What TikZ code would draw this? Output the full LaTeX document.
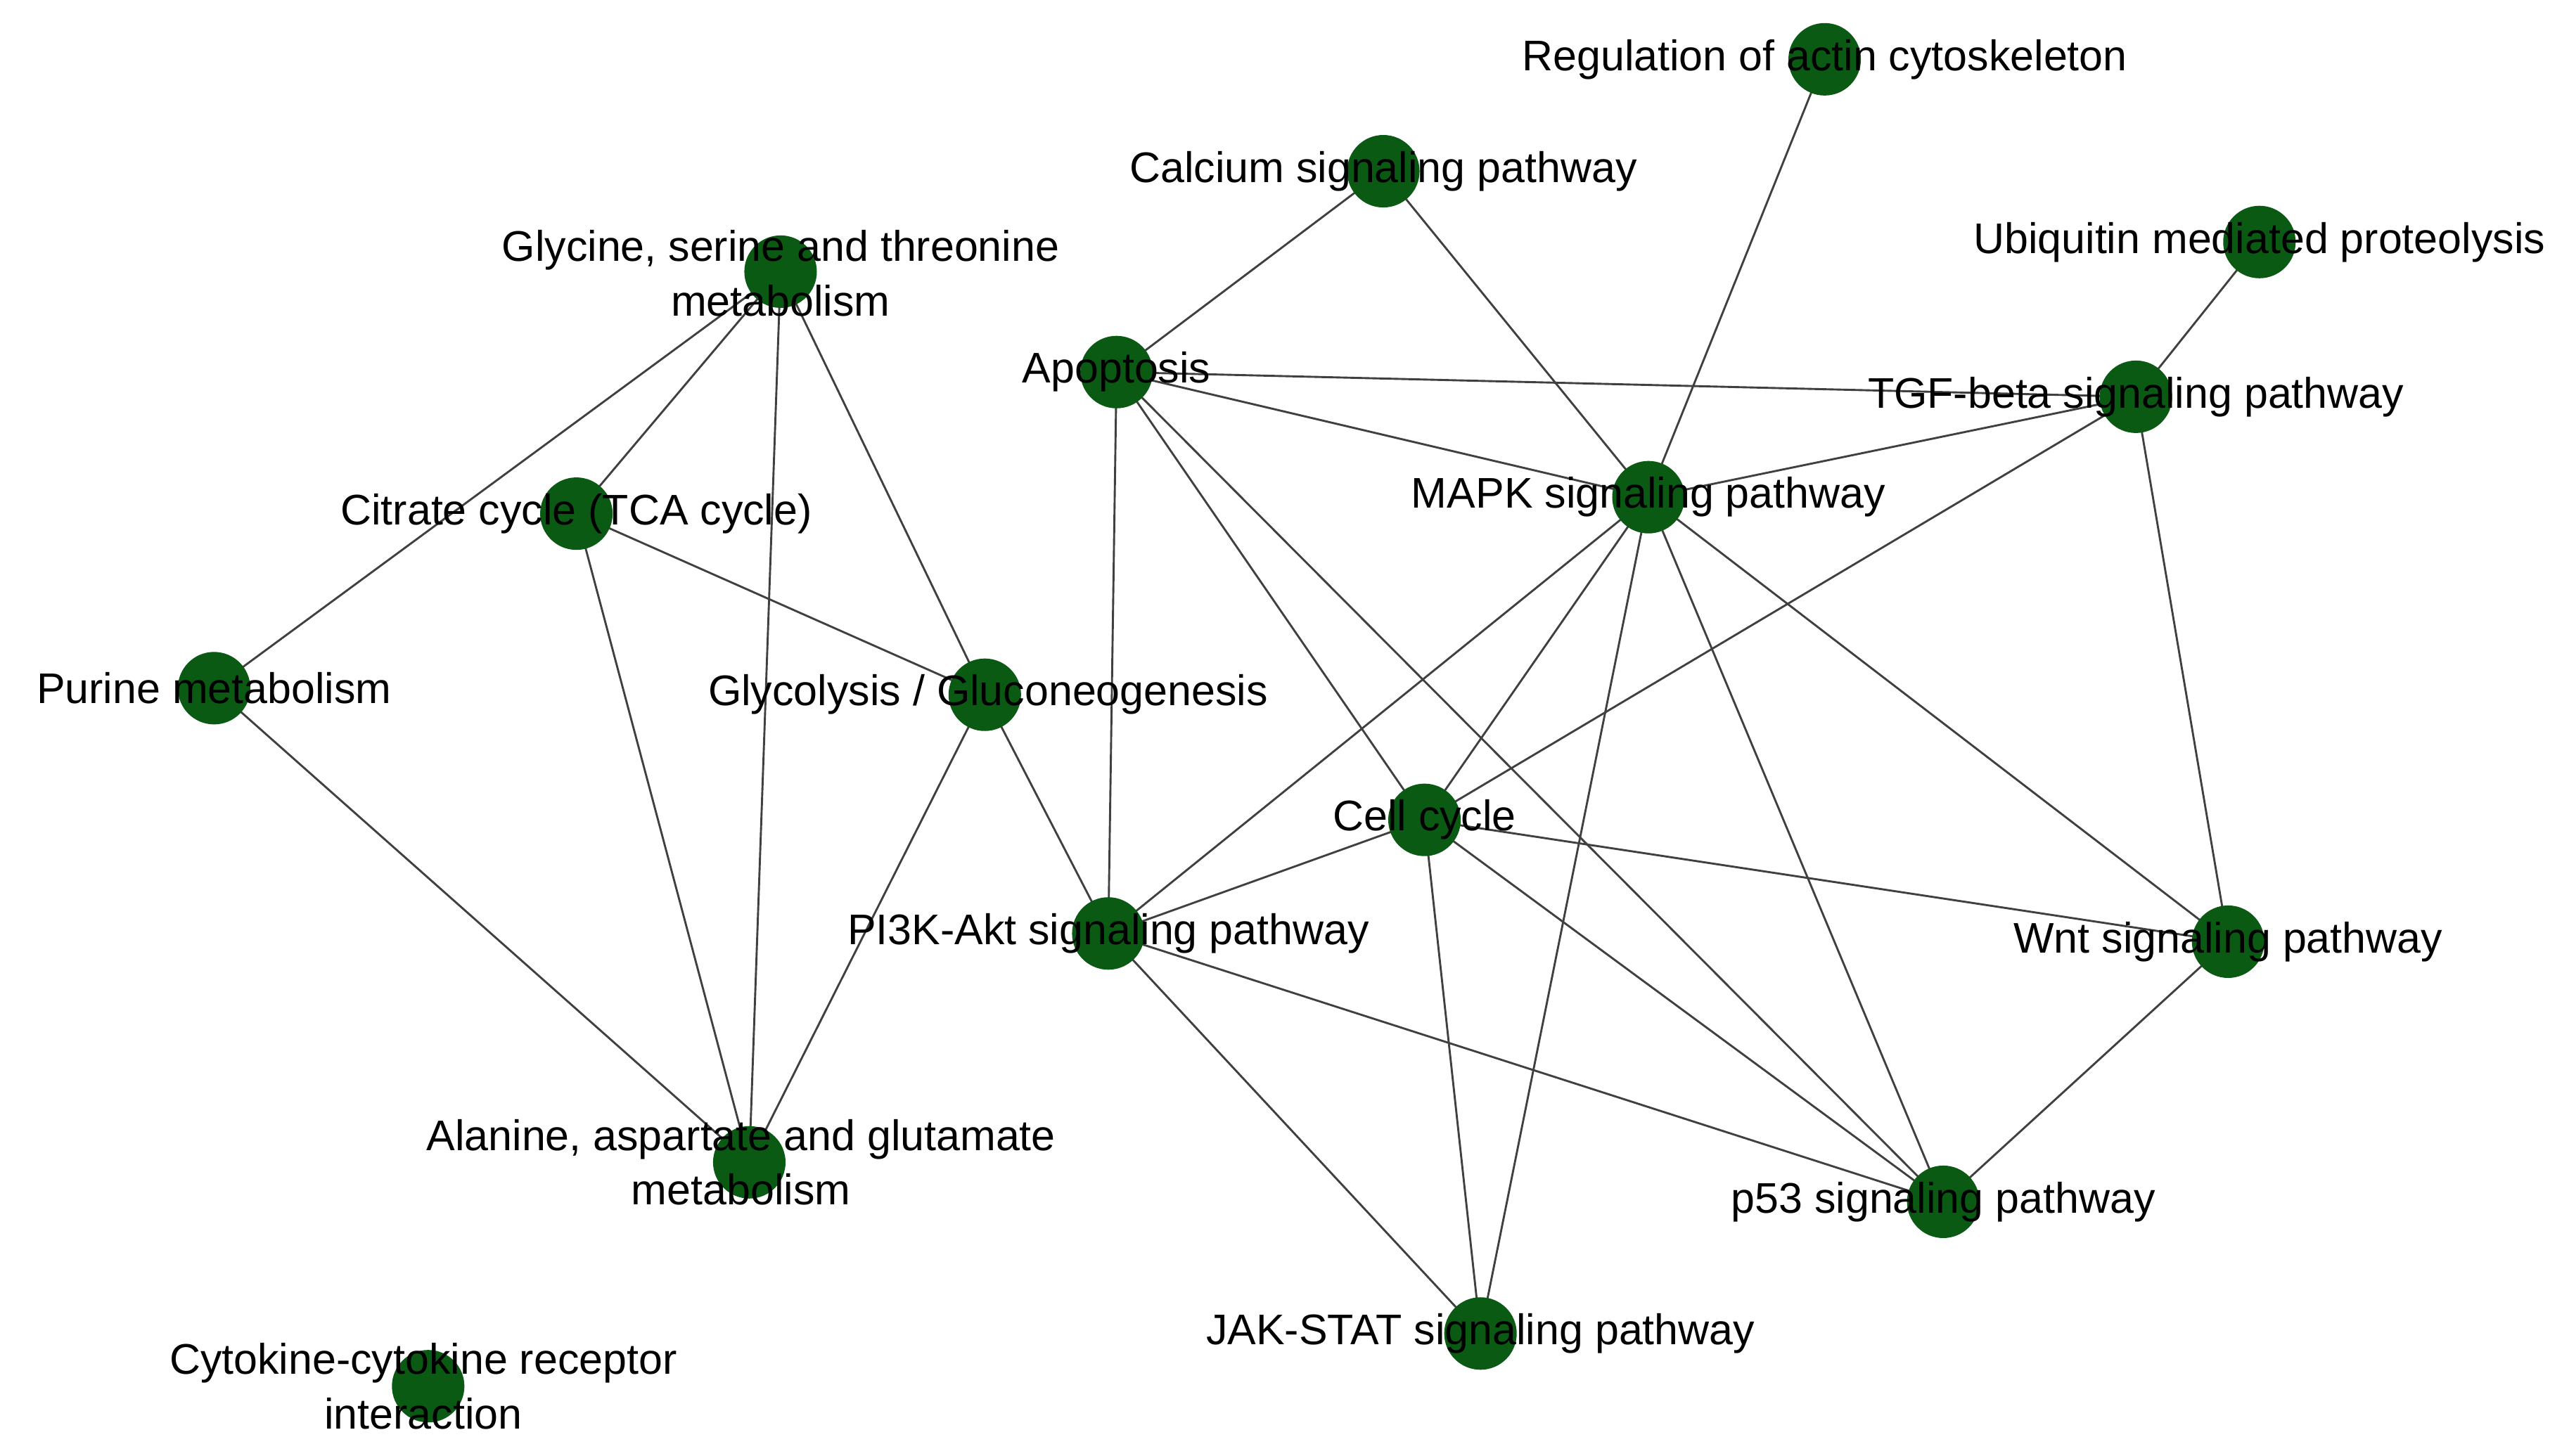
\documentclass[tikz,border=0pt]{standalone}
\usepackage{fontspec}
\setmainfont{Liberation Sans}
\begin{document}
\begin{tikzpicture}[x=0.01cm,y=-0.01cm,
  dot/.style={circle,fill=dotgreen,minimum size=0.44cm,inner sep=0pt},
  lab/.style={font=\fontsize{7.4}{9.4}\selectfont,align=center,inner sep=0pt},
  edge/.style={draw=black!75,line width=0.35pt}]
\definecolor{dotgreen}{HTML}{0B5A13}
\useasboundingbox (0,0) rectangle (1560,884);
\foreach \n/\x/\y in {reg/1108/36,cal/840/104,ubi/1372/147,gly/474/165,apo/678/226,tgf/1297/241,mapk/1001/302,cit/350/312,pur/130/418,glc/598/422,cc/865/498,pi3k/673/567,wnt/1353/572,ala/455/706,p53/1180/730,jak/899/810,cyt/260/842}
  \coordinate (\n) at (\x,\y);
\foreach \a/\b in {gly/cit,gly/pur,gly/ala,gly/glc,cit/glc,cit/ala,pur/ala,glc/ala,glc/pi3k,cal/apo,cal/mapk,reg/mapk,ubi/tgf,apo/tgf,apo/mapk,apo/pi3k,apo/cc,apo/p53,tgf/mapk,tgf/cc,tgf/wnt,mapk/pi3k,mapk/cc,mapk/jak,mapk/p53,mapk/wnt,cc/pi3k,cc/wnt,cc/p53,cc/jak,pi3k/p53,pi3k/jak,wnt/p53}
  \draw[edge] (\a) -- (\b);
\foreach \n in {reg,cal,ubi,gly,apo,tgf,mapk,cit,pur,glc,cc,pi3k,wnt,ala,p53,jak,cyt}
  \node[dot] (\n-d) at (\n) {};
\node[lab] (l1) at (1108,36) {Regulation of actin cytoskeleton};
\node[lab] (l2) at (840,104) {Calcium signaling pathway};
\node[lab] (l3) at (1372,147) {Ubiquitin mediated proteolysis};
\node[lab] (l4) at (474,166) {Glycine, serine and threonine\\metabolism};
\node[lab] (l5) at (678,226) {Apoptosis};
\node[lab] (l6) at (1297,241) {TGF-beta signaling pathway};
\node[lab] (l7) at (1001,302) {MAPK signaling pathway};
\node[lab] (l8) at (350,312) {Citrate cycle (TCA cycle)};
\node[lab] (l9) at (130,418) {Purine metabolism};
\node[lab] (l10) at (600,422) {Glycolysis / Gluconeogenesis};
\node[lab] (l11) at (865,498) {Cell cycle};
\node[lab] (l12) at (673,567) {PI3K-Akt signaling pathway};
\node[lab] (l13) at (1353,572) {Wnt signaling pathway};
\node[lab] (l14) at (450,706) {Alanine, aspartate and glutamate\\metabolism};
\node[lab] (l15) at (1180,730) {p53 signaling pathway};
\node[lab] (l16) at (899,810) {JAK-STAT signaling pathway};
\node[lab] (l17) at (257,842) {Cytokine-cytokine receptor\\interaction};
\end{tikzpicture}
\end{document}
